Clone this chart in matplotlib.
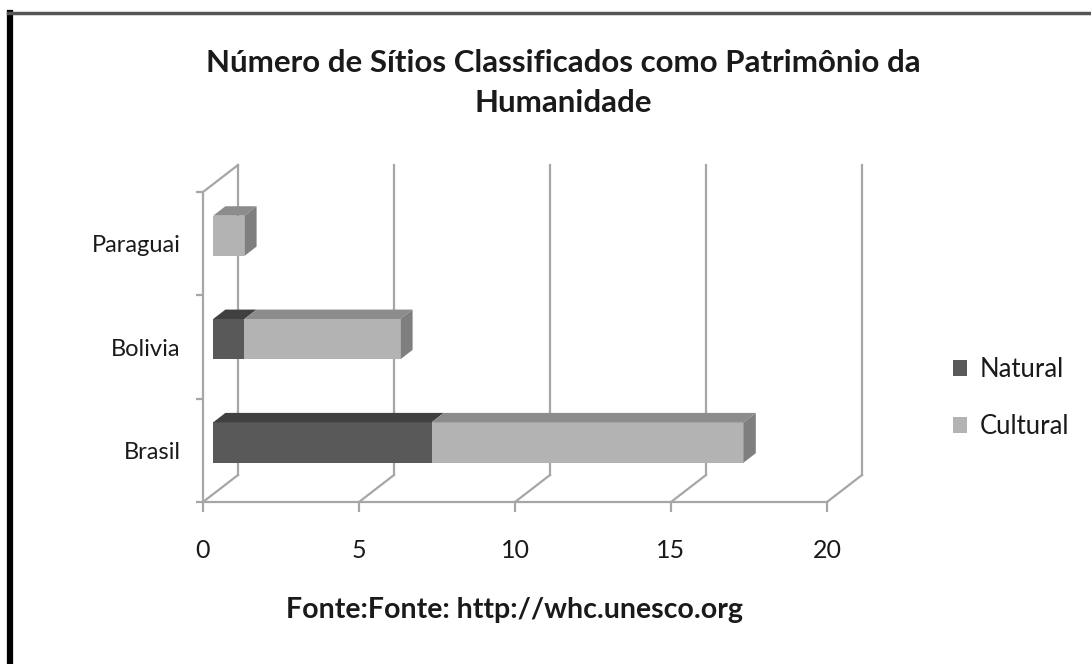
import matplotlib
matplotlib.use("Agg")
import matplotlib.pyplot as plt
from matplotlib.patches import Polygon, Rectangle
from matplotlib.lines import Line2D
from matplotlib.patches import Patch

plt.rcParams['font.family'] = ['Lato', 'DejaVu Sans']

# ---- data ----
categories = ["Brasil", "Bolivia", "Paraguai"]
natural = [7, 1, 0]
cultural = [10, 5, 1]
series_names = ["Natural", "Cultural"]
x_ticks = [0, 5, 10, 15, 20]
title = "Número de Sítios Classificados como Patrimônio da\nHumanidade"
source = "Fonte:Fonte: http://whc.unesco.org"

# ---- style ----
W, H = 1091, 664
fig = plt.figure(figsize=(W / 100, H / 100), dpi=100)
fig.patch.set_facecolor("white")

x0_px, x1_px = 203, 827
y0_px, y1_px = 502, 192
ax = fig.add_axes([x0_px / W, 1 - y0_px / H, (x1_px - x0_px) / W, (y0_px - y1_px) / H])
ax.set_xlim(0, 20)
ax.set_ylim(0, 3)
ax.set_facecolor("none")

px_x = 20 / (x1_px - x0_px)
px_y = 3 / (y0_px - y1_px)
DX = 35 * px_x   # depth offset of back wall
DY = 27 * px_y
grid_c = "#a6a6a6"
lw = 1.6
txt_c = "#1a1a1a"

# back-wall gridlines and floor diagonals
for t in x_ticks:
    ax.plot([t + DX, t + DX], [DY, 3 + DY], color=grid_c, lw=lw, clip_on=False, zorder=1)
    ax.plot([t, t + DX], [0, DY], color=grid_c, lw=lw, clip_on=False, zorder=1)
# left wall top diagonal
ax.plot([0, DX], [3, 3 + DY], color=grid_c, lw=lw, clip_on=False, zorder=1)

# bars
f0 = 0.29
depth = 0.35
bar_h = 0.39
nat_front, nat_top = "#595959", "#404040"
cul_front, cul_top, side_c = "#b3b3b3", "#8c8c8c", "#7f7f7f"
bdx, bdy = depth * DX, depth * DY
for i, cat in enumerate(categories):
    yc = i + 0.5 + f0 * DY
    yb, yt = yc - bar_h / 2, yc + bar_h / 2
    xs = f0 * DX
    left = 0
    segs = [(natural[i], nat_front, nat_top), (cultural[i], cul_front, cul_top)]
    for val, fc, tc in segs:
        if val <= 0:
            continue
        a, b = left + xs, left + val + xs
        ax.add_patch(Rectangle((a, yb), b - a, yt - yb, facecolor=fc, edgecolor="none",
                               clip_on=False, zorder=3))
        ax.add_patch(Polygon([(a, yt), (b, yt), (b + bdx, yt + bdy), (a + bdx, yt + bdy)],
                             closed=True, facecolor=tc, edgecolor="none", clip_on=False, zorder=3))
        left += val
    e = left + xs
    ax.add_patch(Polygon([(e, yb), (e + bdx, yb + bdy), (e + bdx, yt + bdy), (e, yt)],
                         closed=True, facecolor=side_c, edgecolor="none", clip_on=False, zorder=3))

# axes
for s in ["top", "right"]:
    ax.spines[s].set_visible(False)
for s in ["left", "bottom"]:
    ax.spines[s].set_color(grid_c)
    ax.spines[s].set_linewidth(lw)
ax.set_xticks(x_ticks)
ax.set_xticklabels([str(t) for t in x_ticks])
ax.set_yticks([0, 1, 2, 3])
ax.set_yticklabels([])
ax.set_yticks([0.5, 1.5, 2.5], minor=True)
ax.set_yticklabels(categories, minor=True)
ax.tick_params(axis="x", which="major", length=7, width=lw, color=grid_c,
               labelsize=18, labelcolor=txt_c, pad=20)
ax.tick_params(axis="y", which="major", length=5, width=lw, color=grid_c)
ax.tick_params(axis="y", which="minor", length=0, labelsize=17, labelcolor=txt_c, pad=16)

# title and source
fig.text(563 / W, 1 - 83 / H, title, ha="center", va="center", fontsize=22.5,
         fontweight="bold", color=txt_c, linespacing=1.55)
fig.text(515 / W, 1 - 610 / H, source, ha="center", va="center", fontsize=20.5,
         fontweight="bold", color=txt_c)

# legend
handles = [Patch(facecolor=nat_front, edgecolor="none"), Patch(facecolor=cul_front, edgecolor="none")]
fig.legend(handles, series_names, loc="center left", bbox_to_anchor=(930 / W, 1 - 398 / H),
           frameon=False, fontsize=18.5, handlelength=0.55, handleheight=0.55,
           handletextpad=0.5, labelspacing=1.25, labelcolor=txt_c)

# frame lines (left and top border of the picture)
fig.add_artist(Line2D([10 / W, 10 / W], [0, 1 - 13 / H], color="black", lw=4.5,
                      transform=fig.transFigure))
fig.add_artist(Line2D([8 / W, 1], [1 - 13 / H, 1 - 13 / H], color="#555555", lw=2.5,
                      transform=fig.transFigure))

fig.savefig("out.png", dpi=100)
